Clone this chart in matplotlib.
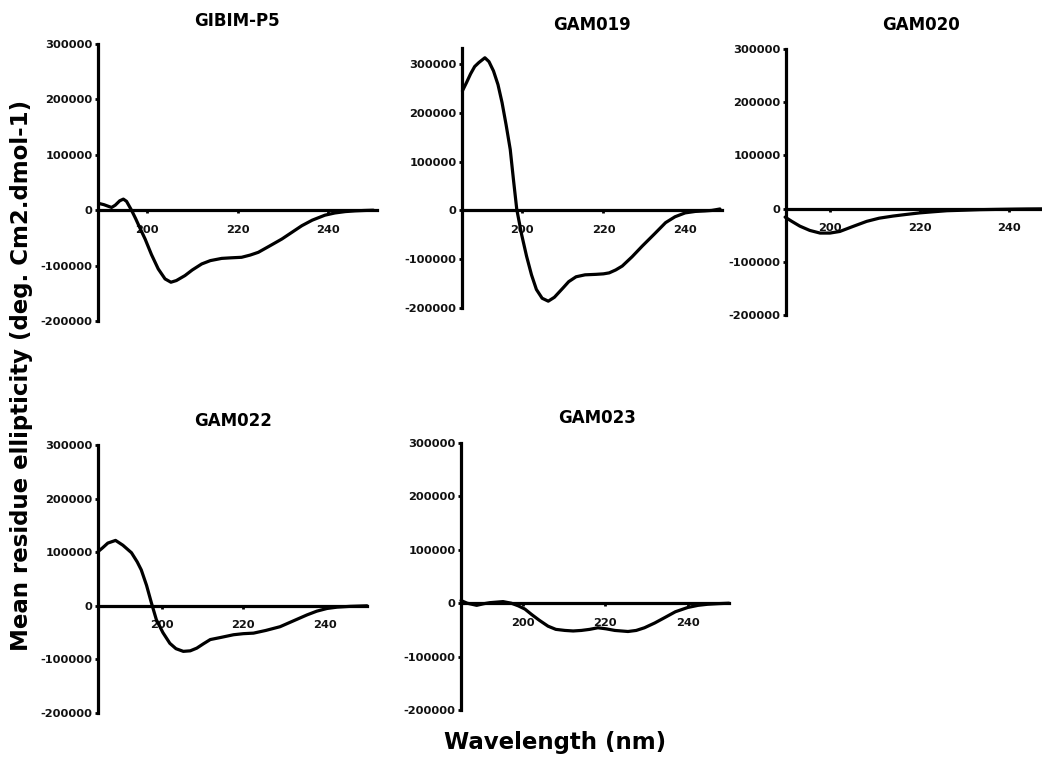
import matplotlib
matplotlib.use("Agg")
import matplotlib.pyplot as plt
from matplotlib.ticker import FixedLocator, FuncFormatter

plt.rcParams['font.family'] = ['DejaVu Sans']
plt.rcParams['font.weight'] = 'bold'
plt.rcParams['axes.unicode_minus'] = False

# ---------------- data ----------------
titles = ["GIBIM-P5", "GAM019", "GAM020", "GAM022", "GAM023"]

wl_gibim = [189.5, 190.5, 191.5, 192.2, 193, 194, 194.8, 195.5, 196.6, 197.5, 198.5, 199.6,
            201, 202.5, 204, 205.3, 206.5, 208.4, 210, 212.1, 214, 216.5, 218.5, 220.9,
            222.8, 224.6, 227, 229.8, 232, 234.2, 236.5, 239.3, 241.5, 243.8, 246, 248, 250]
mre_gibim = [12000, 10000, 7000, 5000, 9000, 17000, 20000, 16000, 0, -15000, -33000, -52000,
             -80000, -106000, -124000, -130000, -127000, -118000, -108000, -97000, -91000, -87000, -86000, -85000,
             -81000, -76000, -65000, -52000, -40000, -28000, -18000, -9000, -5000, -2500, -1200, -500, 0]

wl_gam019 = [185.5, 186.5, 187.5, 188.5, 189.5, 191, 192, 193.1, 194.2, 195.2, 196.2, 197.2,
             198, 198.8, 200, 201.2, 202.4, 203.6, 205, 206.5, 208, 210.1, 211.5, 213.3,
             215.5, 218.2, 220, 221.4, 223, 224.6, 227, 229.5, 232.5, 235.2, 237.5, 240,
             242.5, 244.8, 246.5, 248.5]
mre_gam019 = [245000, 262000, 280000, 295000, 303000, 313000, 305000, 286000, 258000, 221000, 175000, 125000,
              62000, 2000, -50000, -94000, -132000, -162000, -180000, -186000, -178000, -159000, -146000, -136000,
              -132000, -131000, -130000, -128000, -122000, -114000, -95000, -73000, -48000, -25000, -13000, -5000,
              -2000, -1000, 0, 3000]

wl_gam020 = [190, 191.5, 193.3, 195.5, 197.8, 200, 202.2, 205, 208.2, 211, 214.1, 217,
             220.1, 223, 226.1, 230, 233.5, 237, 241, 244, 247.5, 250]
mre_gam020 = [-16000, -24000, -33000, -41000, -46000, -46000, -43000, -34000, -24000, -18000, -14000, -11000,
              -8000, -6000, -4000, -3000, -2000, -1500, -1000, -700, -500, -400]

wl_gam022 = [184.4, 185.5, 186.8, 188.7, 190.5, 192.6, 194, 195, 196.3, 197.5, 198.7, 200.3,
             202, 203.5, 205.3, 207, 208.6, 210.2, 211.9, 214.5, 217.6, 220, 222.5, 225.5,
             229, 232, 235.6, 238, 240.5, 243, 246.2, 250.3]
mre_gam022 = [101000, 108000, 117000, 122000, 113000, 99000, 82000, 67000, 38000, 5000, -26000, -50000,
              -70000, -80000, -85000, -84000, -79000, -71000, -63000, -59000, -54000, -52000, -51000, -46000,
              -39000, -29000, -17000, -10000, -5000, -2500, -1000, 0]

wl_gam023 = [185, 186.5, 188.8, 190.5, 192, 195.2, 197.2, 198.9, 200.5, 202.1, 204, 206.1,
             208, 210.2, 212.2, 214.2, 216.2, 218.2, 220.2, 222.3, 225.5, 227.5, 229.5, 232,
             234.4, 237, 240, 242.5, 244.8, 247.5, 250]
mre_gam023 = [5000, 0, -4000, -1000, 1000, 3000, 0, -5000, -11000, -21000, -32000, -43000,
              -49000, -51000, -52000, -51000, -49000, -46000, -48000, -51000, -53000, -51000, -46000, -37000,
              -27000, -16000, -8000, -4000, -2000, -800, 0]

series = [(wl_gibim, mre_gibim), (wl_gam019, mre_gam019), (wl_gam020, mre_gam020),
          (wl_gam022, mre_gam022), (wl_gam023, mre_gam023)]

x_ticks = [200, 220, 240]
y_ticks = [-200000, -100000, 0, 100000, 200000, 300000]

# ---------------- layout (pixels) ----------------
W, H = 1042, 765
# left, right, top, bottom (px), xlim, ylim
layout = [
    (98, 377, 44, 321, (189.2, 250.8), (-200000, 300000), (237, 21)),
    (462, 722, 48, 308, (185.4, 249.0), (-200000, 333000), (592, 25)),
    (786, 1054, 49, 315, (190.2, 250.0), (-200000, 300000), (921, 25)),
    (98, 367, 445, 713, (184.4, 250.3), (-200000, 300000), (233, 421)),
    (461, 729, 443, 710, (185.0, 250.0), (-200000, 300000), (597, 418)),
]

fig = plt.figure(figsize=(W / 100, H / 100), dpi=100)

for (wl, mre), title, (l, r, t, b, xl, yl, tpos) in zip(series, titles, layout):
    ax = fig.add_axes([l / W, 1 - b / H, (r - l) / W, (b - t) / H])
    ax.plot(wl, mre, color='black', lw=2.3, solid_capstyle='round', solid_joinstyle='round',
            clip_on=False)
    ax.set_xlim(*xl)
    ax.set_ylim(*yl)
    for s in ['top', 'right']:
        ax.spines[s].set_visible(False)
    ax.spines['bottom'].set_position(('data', 0))
    ax.spines['left'].set_linewidth(2.3)
    ax.spines['bottom'].set_linewidth(2.3)
    ax.xaxis.set_major_locator(FixedLocator(x_ticks))
    ax.yaxis.set_major_locator(FixedLocator(y_ticks))
    ax.yaxis.set_major_formatter(FuncFormatter(lambda v, p: f"{int(v)}"))
    ax.tick_params(axis='x', direction='out', length=2.5, width=2, pad=8, labelsize=8.2)
    ax.tick_params(axis='y', direction='out', length=2.5, width=2, pad=1.5, labelsize=8.2)
    for lab in ax.get_xticklabels() + ax.get_yticklabels():
        lab.set_fontweight('bold')
        lab.set_color('#111111')
    ax.patch.set_visible(False)
    fig.text(tpos[0] / W, 1 - tpos[1] / H, title, ha='center', va='center',
             fontsize=12, fontweight='bold')

fig.text(22 / W, 1 - 375 / H, "Mean residue ellipticity (deg. Cm2.dmol-1)",
         rotation=90, ha='center', va='center', fontsize=16.5, fontweight='bold')
fig.text(555 / W, 1 - 742 / H, "Wavelength (nm)", ha='center', va='center',
         fontsize=16.5, fontweight='bold')

fig.savefig("out.png", dpi=100, facecolor='white')
